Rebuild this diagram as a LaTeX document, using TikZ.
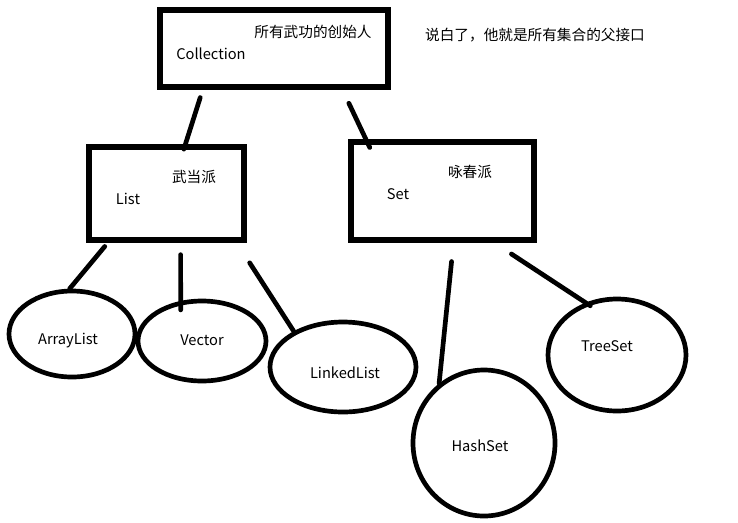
\documentclass[tikz,border=0pt]{standalone}
\usepackage{fontspec}
\setmainfont{Noto Sans CJK SC}
\usetikzlibrary{shapes.geometric}
\tikzset{
  every picture/.style={line join=round, line cap=round},
  box/.style={draw, rectangle, line width=4.5pt, line join=miter, inner sep=0pt},
  ring/.style={draw, ellipse, line width=4pt, inner sep=0pt},
  txt/.style={font=\fontsize{12.5}{15}\selectfont, inner sep=0pt},
  link/.style={line width=4pt},
}

\begin{document}
\begin{tikzpicture}[x=0.03cm,y=-0.03cm]
\useasboundingbox (0,0) rectangle (738,522);
% boxes
\node[box,minimum width=6.84cm,minimum height=2.31cm](coll) at (274,48.5){};
\node[box,minimum width=4.65cm,minimum height=2.79cm](list) at (166.5,193.5){};
\node[box,minimum width=5.49cm,minimum height=2.94cm](set) at (442.5,191){};
% ellipses
\node[ring,minimum width=3.78cm,minimum height=2.58cm](arr) at (72,334){};
\node[ring,minimum width=3.84cm,minimum height=2.4cm](vec) at (202,341){};
\node[ring,minimum width=4.38cm,minimum height=2.7cm](lnk) at (343,367){};
\node[ring,minimum width=4.26cm,minimum height=4.38cm](hash) at (484,443){};
\node[ring,minimum width=4.14cm,minimum height=3.36cm](tree) at (617,355){};
% texts
\node[txt](collcn) at (313,32){所有武功的创始人};
\node[txt](colltx) at (211,54){Collection};
\node[txt](note) at (535,35){说白了，他就是所有集合的父接口};
\node[txt](listcn) at (194,177){武当派};
\node[txt](listtx) at (128,199){List};
\node[txt](setcn) at (470,172){咏春派};
\node[txt](settx) at (398,194){Set};
\node[txt](arrtx) at (68,341){ArrayList};
\node[txt](vectx) at (202,340){Vector};
\node[txt](lnktx) at (345,373){LinkedList};
\node[txt](hashtx) at (480,446){HashSet};
\node[txt](treetx) at (607,346){TreeSet};
% connectors
\draw[link,shorten <=0.25cm,shorten >=-0.15cm](coll.-150)--(list.69);
\draw[link,shorten <=0.45cm,shorten >=-0.27cm](coll.-31)--(set.146);
\draw[link,shorten <=0.15cm](list.-140)--(arr.93);
\draw[link,shorten <=0.36cm,shorten >=-0.27cm](list.-74)--(vec.118);
\draw[link,shorten <=0.72cm](list.-35)--(lnk.144);
\draw[link,shorten <=0.57cm](set.-78)--(hash.127);
\draw[link,shorten <=0.62cm,shorten >=-0.17cm](set.-45)--(tree.121);
\end{tikzpicture}
\end{document}
